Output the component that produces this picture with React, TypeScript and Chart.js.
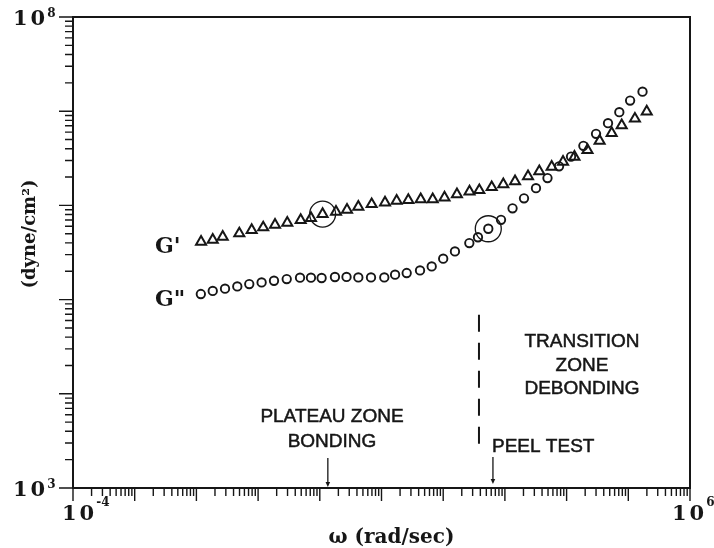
import { useEffect, useRef } from "react";
import { Chart, registerables } from "chart.js";

Chart.register(...registerables);

// ---- data ----
const gPrimeOmega = [0.0119, 0.0184, 0.0267, 0.0496, 0.0787, 0.121, 0.188, 0.297, 0.49, 0.719, 1.11, 1.83, 2.76, 4.21, 6.93, 11.4, 17.6, 27.2, 43.2, 67.6, 105, 167, 267, 385, 611, 942, 1460, 2370, 3610, 5730, 8750, 13400, 21800, 34300, 53800, 78200, 128000, 199000];
const gPrime = [411000, 432000, 465000, 504000, 547000, 583000, 623000, 654000, 699000, 733000, 809000, 855000, 898000, 966000, 1030000, 1070000, 1120000, 1140000, 1160000, 1160000, 1210000, 1310000, 1400000, 1450000, 1560000, 1670000, 1800000, 2040000, 2300000, 2570000, 2900000, 3280000, 3860000, 4840000, 5850000, 7070000, 8330000, 9900000];

const gDoublePrimeOmega = [0.0118, 0.0184, 0.0291, 0.046, 0.0719, 0.114, 0.181, 0.291, 0.478, 0.719, 1.07, 1.76, 2.71, 4.21, 6.76, 11.1, 16.6, 25.6, 42.1, 65.1, 100, 155, 265, 366, 538, 865, 1330, 2040, 3190, 4900, 7540, 11800, 18700, 30000, 46900, 71500, 107000, 170000];
const gDoublePrime = [114600, 123600, 130600, 138000, 146300, 152200, 158500, 165300, 170700, 170700, 169500, 173700, 174000, 171900, 171900, 171900, 183700, 191500, 204100, 225000, 271600, 324300, 398100, 459000, 564900, 703400, 931200, 1189000, 1525000, 1949000, 2600000, 3302000, 4285000, 5745000, 7460000, 9755000, 12950000, 16100000];

const circledGPrimeIndex = 10;
const circledGDoublePrimeIndex = 24;

const xDecades = [-4, -3, -2, -1, 0, 1, 2, 3, 4, 5, 6];
const yDecades = [3, 4, 5, 6, 7, 8];
const minorMultipliers = [2, 3, 4, 5, 6, 7, 8, 9];

const xTickLabels = [
  { value: 1e-4, base: "10", exp: "-4" },
  { value: 1e6, base: "10", exp: "6" },
];
const yTickLabels = [
  { value: 1e8, base: "10", exp: "8" },
  { value: 1e3, base: "10", exp: "3" },
];

const xTitle = "ω (rad/sec)";
const yTitle = "(dyne/cm²)";
const seriesLabels = ["G'", 'G"'];
const transitionText = ["TRANSITION", "ZONE", "DEBONDING"];
const plateauText = ["PLATEAU ZONE", "BONDING"];
const peelText = "PEEL TEST";

const bondingArrowOmega = 1.35;
const peelArrowOmega = 640;
const peelLineOmega = 380;
const peelLineTop = 69000;
const peelLineBottom = 2825;

const INK = "#161616";
const SERIF = '"DejaVu Serif", "Liberation Serif", serif';
const SANS = '"Liberation Sans", Arial, sans-serif';

function drawArrow(ctx: CanvasRenderingContext2D, x: number, y0: number, y1: number) {
  ctx.beginPath();
  ctx.lineWidth = 1.3;
  ctx.moveTo(x, y0);
  ctx.lineTo(x, y1 - 4);
  ctx.stroke();
  ctx.beginPath();
  ctx.moveTo(x - 2.3, y1 - 5);
  ctx.lineTo(x + 2.3, y1 - 5);
  ctx.lineTo(x, y1);
  ctx.closePath();
  ctx.fill();
}

function drawSup(
  ctx: CanvasRenderingContext2D,
  base: string,
  exp: string,
  x: number,
  baseline: number,
  expBaseline: number
) {
  ctx.textAlign = "left";
  ctx.textBaseline = "alphabetic";
  ctx.font = `bold 21px ${SERIF}`;
  (ctx as any).letterSpacing = "3px";
  ctx.fillText(base, x, baseline);
  const w = ctx.measureText(base).width;
  (ctx as any).letterSpacing = "0px";
  ctx.font = `bold 12px ${SERIF}`;
  ctx.fillText(exp, x + w - 1, expBaseline);
}

const decorPlugin = {
  id: "decor",
  afterDatasetsDraw(chart: any) {
    const { ctx, chartArea: a, scales } = chart;
    const xs = scales.x;
    const ys = scales.y;
    ctx.save();
    ctx.strokeStyle = INK;
    ctx.fillStyle = INK;

    // frame
    ctx.lineWidth = 2;
    ctx.strokeRect(a.left, a.top, a.right - a.left, a.bottom - a.top);

    // ticks
    ctx.lineWidth = 1.4;
    ctx.beginPath();
    yDecades.forEach((e, i) => {
      const p = ys.getPixelForValue(Math.pow(10, e));
      ctx.moveTo(a.left - 14, p);
      ctx.lineTo(a.left, p);
      if (i < yDecades.length - 1) {
        minorMultipliers.forEach((m) => {
          const q = ys.getPixelForValue(m * Math.pow(10, e));
          ctx.moveTo(a.left - 8, q);
          ctx.lineTo(a.left, q);
        });
      }
    });
    xDecades.forEach((e, i) => {
      const p = xs.getPixelForValue(Math.pow(10, e));
      ctx.moveTo(p, a.bottom);
      ctx.lineTo(p, a.bottom + 13);
      if (i < xDecades.length - 1) {
        minorMultipliers.forEach((m) => {
          const q = xs.getPixelForValue(m * Math.pow(10, e));
          ctx.moveTo(q, a.bottom);
          ctx.lineTo(q, a.bottom + 8);
        });
      }
    });
    ctx.stroke();

    // tick labels
    yTickLabels.forEach((t) => {
      const p = ys.getPixelForValue(t.value);
      drawSup(ctx, t.base, t.exp, a.left - 60, p + 8, p - 0);
    });
    xTickLabels.forEach((t, i) => {
      const p = xs.getPixelForValue(t.value);
      const left = i === 0 ? p - 11 : p - 18;
      drawSup(ctx, t.base, t.exp, left, a.bottom + 32, a.bottom + 18);
    });

    // axis titles
    ctx.font = `bold 20px ${SERIF}`;
    ctx.textAlign = "center";
    ctx.textBaseline = "alphabetic";
    ctx.fillText(xTitle, (a.left + a.right) / 2 + 10, a.bottom + 55);

    ctx.save();
    ctx.translate(30, 234);
    ctx.rotate(-Math.PI / 2);
    ctx.font = `bold 18px ${SERIF}`;
    ctx.textBaseline = "middle";
    ctx.fillText(yTitle, 0, 0);
    ctx.restore();

    // series labels
    ctx.font = `bold 22px ${SERIF}`;
    ctx.textAlign = "left";
    ctx.fillText(seriesLabels[0], 155, ys.getPixelForValue(gPrime[0]) + 11);
    ctx.fillText(seriesLabels[1], 155, ys.getPixelForValue(gDoublePrime[0]) + 12);

    // peel-test dashed line
    const lx = xs.getPixelForValue(peelLineOmega);
    ctx.beginPath();
    ctx.lineWidth = 2;
    ctx.setLineDash([17, 11]);
    ctx.moveTo(lx, ys.getPixelForValue(peelLineTop));
    ctx.lineTo(lx, ys.getPixelForValue(peelLineBottom));
    ctx.stroke();
    ctx.setLineDash([]);

    // zone texts
    ctx.font = `19px ${SANS}`;
    ctx.lineWidth = 0.5;
    const txt = (s: string, x: number, y: number, align: CanvasTextAlign) => {
      ctx.textAlign = align;
      ctx.fillText(s, x, y);
      ctx.strokeText(s, x, y);
    };
    transitionText.forEach((s, i) => txt(s, 582, 347 + i * 23.5, "center"));
    plateauText.forEach((s, i) => txt(s, 332, 422 + i * 25, "center"));
    txt(peelText, 492, 452, "left");

    // arrows
    drawArrow(ctx, xs.getPixelForValue(bondingArrowOmega), a.bottom - 30, a.bottom - 1);
    drawArrow(ctx, xs.getPixelForValue(peelArrowOmega), a.bottom - 31, a.bottom - 4);

    ctx.restore();
  },
};

export default function App() {
  const ref = useRef<HTMLCanvasElement | null>(null);

  useEffect(() => {
    document.body.style.margin = "0";
    const canvas = ref.current;
    if (!canvas) return;
    const chart = new Chart(canvas, {
      type: "scatter",
      data: {
        datasets: [
          {
            label: "G'",
            data: gPrimeOmega.map((x, i) => ({ x, y: gPrime[i] })),
            pointStyle: "triangle",
            pointRadius: 5.8,
            pointBorderWidth: 2,
            pointBorderColor: INK,
            pointBackgroundColor: "rgba(0,0,0,0)",
          },
          {
            label: 'G"',
            data: gDoublePrimeOmega.map((x, i) => ({ x, y: gDoublePrime[i] })),
            pointStyle: "circle",
            pointRadius: 4.2,
            pointBorderWidth: 1.9,
            pointBorderColor: INK,
            pointBackgroundColor: "rgba(0,0,0,0)",
          },
          {
            label: "circled",
            data: [
              { x: gPrimeOmega[circledGPrimeIndex], y: gPrime[circledGPrimeIndex] },
              { x: gDoublePrimeOmega[circledGDoublePrimeIndex], y: gDoublePrime[circledGDoublePrimeIndex] },
            ],
            pointStyle: "circle",
            pointRadius: 13,
            pointBorderWidth: 1.3,
            pointBorderColor: INK,
            pointBackgroundColor: "rgba(0,0,0,0)",
          },
        ],
      } as any,
      options: {
        animation: false,
        responsive: false,
        events: [],
        layout: { padding: { left: 73, right: 24, top: 17, bottom: 60 } },
        plugins: { legend: { display: false }, tooltip: { enabled: false } },
        scales: {
          x: { type: "logarithmic", min: 1e-4, max: 1e6, display: false },
          y: { type: "logarithmic", min: 1e3, max: 1e8, display: false },
        },
      } as any,
      plugins: [decorPlugin],
    });
    return () => chart.destroy();
  }, []);

  return (
    <div style={{ width: 714, height: 548, background: "#fff" }}>
      <canvas ref={ref} width={714} height={548} style={{ display: "block" }} />
    </div>
  );
}
